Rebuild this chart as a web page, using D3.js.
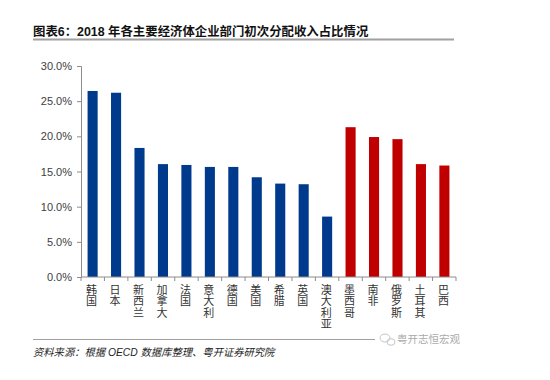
<!DOCTYPE html>
<html><head><meta charset="utf-8">
<script src="https://cdn.jsdelivr.net/npm/d3@7"></script>
<style>body{margin:0;background:#fff}svg{display:block}</style>
</head><body>
<svg id="c" width="550" height="380"></svg>
<script>
const categories = ["韩国","日本","新西兰","加拿大","法国","意大利","德国","美国","希腊","英国","澳大利亚","墨西哥","南非","俄罗斯","土耳其","巴西"];
const values = [26.45, 26.2, 18.35, 16.05, 15.93, 15.65, 15.65, 14.18, 13.28, 13.19, 8.59, 21.3, 19.9, 19.6, 16.05, 15.85];
const groups = ["blue","blue","blue","blue","blue","blue","blue","blue","blue","blue","blue","red","red","red","red","red"];
const yTicks = [0, 5, 10, 15, 20, 25, 30];
const title = "图表6：2018 年各主要经济体企业部门初次分配收入占比情况";
const source = "资料来源：根据 OECD 数据库整理、粤开证券研究院";
const watermark = "粤开志恒宏观";

(function () {
const colors = {blue: "#003a8c", red: "#c00000"};
const svg = d3.select("#c");
const font = "'Liberation Sans','Noto Sans CJK SC',sans-serif";

// Title
svg.append("text").attr("x", 33).attr("y", 36).attr("font-family", font)
  .attr("font-size", 12.4).attr("font-weight", "bold").attr("fill", "#111").text(title);
svg.append("line").attr("x1", 33).attr("x2", 454).attr("y1", 39.5).attr("y2", 39.5)
  .attr("stroke", "#a0a0a0").attr("stroke-width", 2);

const mL = 81, mR = 456, mT = 66, mB = 277;
const x = d3.scaleBand().domain(categories).range([mL, mR]).paddingInner(0.57).paddingOuter(0.28);
const y = d3.scaleLinear().domain([0, 30]).range([mB, mT]);

// Bars
svg.append("g").selectAll("rect").data(categories).join("rect")
  .attr("x", d => x(d)).attr("width", x.bandwidth())
  .attr("y", (d, i) => y(values[i])).attr("height", (d, i) => y(0) - y(values[i]))
  .attr("fill", (d, i) => colors[groups[i]]);

// Y axis
const yAxis = svg.append("g").attr("transform", `translate(${mL},0)`)
  .call(d3.axisLeft(y).tickValues(yTicks).tickSize(4).tickPadding(5).tickFormat(d => d.toFixed(1) + "%"));
yAxis.selectAll("text").attr("font-family", font).attr("font-size", 11).attr("fill", "#404040");
yAxis.selectAll("line,path").attr("stroke", "#8c8c8c");

// X axis
const step = (mR - mL) / categories.length;
const xAxis = svg.append("g").attr("transform", `translate(0,${mB})`);
xAxis.append("line").attr("x1", mL).attr("x2", mR).attr("stroke", "#8c8c8c");
const bounds = d3.range(categories.length + 1).map(i => mL + i * step);
xAxis.selectAll("line.t").data(bounds).join("line").attr("class", "t")
  .attr("x1", d => d).attr("x2", d => d).attr("y1", 0).attr("y2", 4).attr("stroke", "#8c8c8c");
const lab = xAxis.selectAll("text").data(categories).join("text")
  .attr("font-family", font).attr("font-size", 11).attr("fill", "#333")
  .attr("text-anchor", "middle");
lab.each(function(d) {
  const t = d3.select(this);
  Array.from(d).forEach((ch, k) => {
    t.append("tspan").attr("x", x(d) + x.bandwidth() / 2 - 1).attr("y", 16.5 + k * 11.5).text(ch);
  });
});

// Bottom line & source
svg.append("line").attr("x1", 33).attr("x2", 375).attr("y1", 339.5).attr("y2", 339.5)
  .attr("stroke", "#a0a0a0").attr("stroke-width", 1.2);
svg.append("text").attr("x", 33).attr("y", 356).attr("font-family", font)
  .attr("font-size", 10.3).attr("font-style", "italic").attr("fill", "#222").text(source);

// Watermark
const wm = svg.append("g").attr("opacity", 0.55);
wm.append("ellipse").attr("cx", 385).attr("cy", 338).attr("rx", 5).attr("ry", 4)
  .attr("fill", "none").attr("stroke", "#999");
wm.append("ellipse").attr("cx", 391).attr("cy", 342).attr("rx", 4).attr("ry", 3.3)
  .attr("fill", "none").attr("stroke", "#999");
svg.append("text").attr("x", 397).attr("y", 343).attr("font-family", font)
  .attr("font-size", 10.5).attr("fill", "#aaa").text(watermark);
})();
</script>
</body></html>
